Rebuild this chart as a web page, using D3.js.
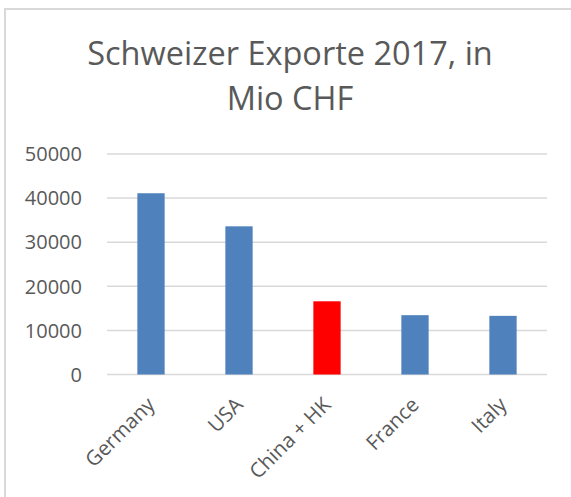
<!DOCTYPE html>
<html>
<head>
<meta charset="utf-8">
<script src="https://cdn.jsdelivr.net/npm/d3@7"></script>
<style>
  body { margin: 0; background: #fff; }
  text { font-family: "Open Sans", sans-serif; fill: #595959; }
</style>
</head>
<body>
<svg width="571" height="497"></svg>
<script>
let svg = d3.select("svg");

// donnees
let pays = ["Germany", "USA", "China + HK", "France", "Italy"];
let exporte = [41100, 33600, 16600, 13450, 13300];
let couleurs = ["#4f81bd", "#4f81bd", "#ff0000", "#4f81bd", "#4f81bd"];
let ticks = [0, 10000, 20000, 30000, 40000, 50000];
let titre = ["Schweizer Exporte 2017, in", "Mio CHF"];

let gauche = 107, droite = 547, haut = 154, bas = 374.5;

// cadre
svg.append("rect")
    .attr("x", 5).attr("y", 9)
    .attr("width", 600).attr("height", 600)
    .style("fill", "none")
    .style("stroke", "#d9d9d9")
    .style("stroke-width", 2);

// titre
svg.selectAll("text.titre")
    .data(titre)
    .enter()
    .append("text")
    .attr("class", "titre")
    .attr("x", 290)
    .attr("y", (d, i) => 65 + i * 45)
    .attr("text-anchor", "middle")
    .style("font-size", "32.5px")
    .text(d => d);

let x = d3.scaleBand().domain(pays).range([gauche, droite]).paddingInner(0.69).paddingOuter(0.345);
let y = d3.scaleLinear().domain([0, 50000]).range([bas, haut]);

// lignes de grille
svg.append("g")
    .selectAll("line")
    .data(ticks)
    .enter()
    .append("line")
    .attr("x1", gauche).attr("x2", droite)
    .attr("y1", d => y(d)).attr("y2", d => y(d))
    .style("stroke", "#d9d9d9")
    .style("stroke-width", 1.5);

// axe y
svg.append("g")
    .selectAll("text")
    .data(ticks)
    .enter()
    .append("text")
    .attr("x", 82)
    .attr("y", d => y(d))
    .attr("dy", "0.36em")
    .attr("text-anchor", "end")
    .style("font-size", "20px")
    .text(d => d);

// barres
svg.append("g")
    .selectAll("rect")
    .data(exporte)
    .enter()
    .append("rect")
    .attr("x", (d, i) => x(pays[i]))
    .attr("y", d => y(d))
    .attr("width", x.bandwidth())
    .attr("height", d => y(0) - y(d))
    .style("fill", (d, i) => couleurs[i]);

// axe x, etiquettes en biais
svg.append("g")
    .selectAll("text")
    .data(pays)
    .enter()
    .append("text")
    .attr("transform", d => "translate(" + (x(d) + x.bandwidth() / 2) + "," + 401 + ") rotate(-45)")
    .attr("text-anchor", "end")
    .attr("dy", "0.35em")
    .style("font-size", "20.5px")
    .text(d => d);
</script>
</body>
</html>
